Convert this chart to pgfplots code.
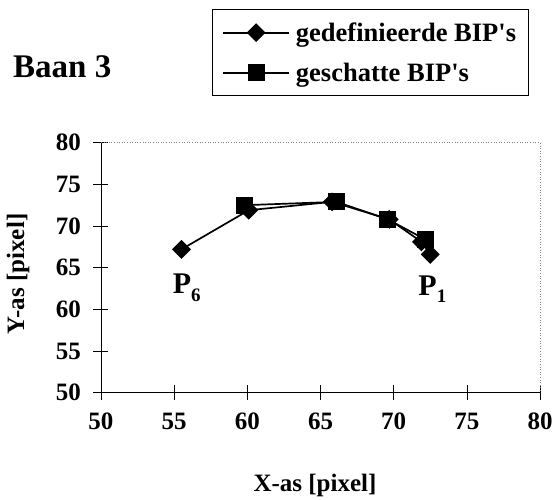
\documentclass[border=0pt]{standalone}
\usepackage{fontspec}
\setmainfont{Liberation Serif}
\usepackage{pgfplots}
\pgfplotsset{compat=1.18}
\begin{document}
\begin{tikzpicture}
\path[use as bounding box] (-101pt,-107.3pt) rectangle (453pt,392.7pt);
\begin{axis}[
  scale only axis, width=439pt, height=250pt,
  xmin=50, xmax=80, ymin=50, ymax=80,
  xtick={50,55,...,80}, ytick={50,55,...,80},
  axis x line*=bottom, axis y line*=left,
  axis line style={-, line width=0.6pt},
  tick style={black, line width=0.6pt},
  major tick length=15pt, tick align=center,
  /pgf/number format/assume math mode=true,
  ticklabel style={font=\bfseries\fontsize{25}{25}\selectfont},
  xticklabel style={yshift=-9pt},
  yticklabel style={xshift=-9pt},
  xlabel={X-as [pixel]}, ylabel={Y-as [pixel]},
  label style={font=\bfseries\fontsize{25}{25}\selectfont},
  xlabel style={at={(axis description cs:0.4875,-0.396)}, anchor=base},
  ylabel style={at={(axis description cs:-0.189,0.475)}, anchor=center, rotate=0},
  legend style={at={(0.2528,1.5336)}, anchor=north west, draw=black, line width=0.6pt,
    font=\bfseries\fontsize{26.5}{30}\selectfont, inner xsep=10pt, inner ysep=11pt, row sep=16pt, column sep=4pt},
  legend cell align=left,
  legend image code/.code={\draw[mark repeat=2, mark phase=2] plot coordinates {(0pt,0pt) (33pt,0pt) (66pt,0pt)};},
  clip=false,
]
\addplot[black, line width=1.7pt, mark=square*, mark size=5.8pt, mark options={rotate=45, solid, fill=black}]
  coordinates {(55.5,67.2) (60.1,71.9) (65.8,72.9) (69.7,70.8) (71.9,68.1) (72.5,66.6)};
\addlegendentry{gedefinieerde BIP\textquotesingle s}
\addplot[black, line width=1.7pt, mark=square*, mark size=7.6pt, mark options={solid, fill=black}]
  coordinates {(59.8,72.5) (66.1,72.9) (69.6,70.8) (72.15,68.4)};
\addlegendentry{geschatte BIP\textquotesingle s}
\draw[gray, dotted, line width=0.6pt] (rel axis cs:0,1) -- (rel axis cs:1,1) -- (rel axis cs:1,0);
\node[anchor=base west, inner sep=0pt, font=\bfseries\fontsize{30}{30}\selectfont] at (axis cs:54.9,61.93) {P\raisebox{-8pt}{\fontsize{19}{19}\selectfont 6}};
\node[anchor=base west, inner sep=0pt, font=\bfseries\fontsize{30}{30}\selectfont] at (axis cs:71.68,61.72) {P\raisebox{-7pt}{\fontsize{19}{19}\selectfont 1}};
\end{axis}
\node[anchor=base west, inner sep=0pt, font=\bfseries\fontsize{33}{33}\selectfont] at (-88pt,314.7pt) {Baan 3};
\end{tikzpicture}
\end{document}
